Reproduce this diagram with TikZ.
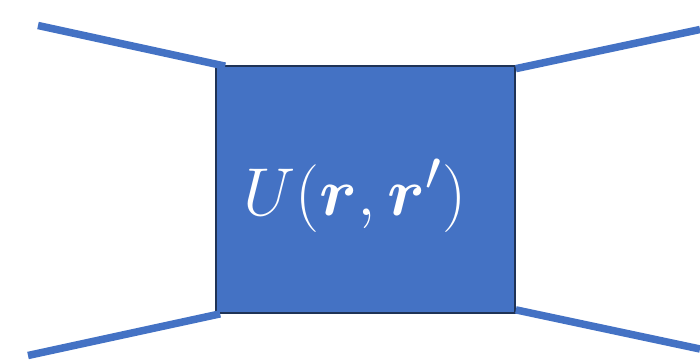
\documentclass[tikz,border=0pt]{standalone}
\usepackage{amsmath,bm}
\usepackage{graphicx}
\usepackage{tikz}
\usetikzlibrary{calc}
\definecolor{Accent}{HTML}{4472C4}
\definecolor{AccentDark}{HTML}{1F3356}

\begin{document}
\begin{tikzpicture}[
  x=0.02cm,y=-0.02cm,
  box/.style={draw=AccentDark,fill=Accent,line width=1pt,minimum width=5.98cm,minimum height=4.94cm,inner sep=0pt},
  label/.style={text=white,font=\Huge,inner sep=0pt},
  leg/.style={draw=Accent,line width=0.15cm}
]
\useasboundingbox (0,0) rectangle (700,361);
\node[box] (vertex) at (365.5,189.5) {};
\node[label] (amp) at (355,196) {\scalebox{1.55}{$U(\bm{r},\bm{r}')$}};
\coordinate (inl) at (38,25.5);
\coordinate (inr) at (28,355.5);
\coordinate (outl) at (700,29.5);
\coordinate (outr) at (700,349);
\draw[leg] (inl) -- ($(vertex.north west)+(10,1)$);
\draw[leg] (inr) -- ($(vertex.south west)+(5,0)$);
\draw[leg] ($(vertex.north east)+(0,3.5)$) -- (outl);
\draw[leg] ($(vertex.south east)+(0,-4)$) -- (outr);
\end{tikzpicture}
\end{document}
